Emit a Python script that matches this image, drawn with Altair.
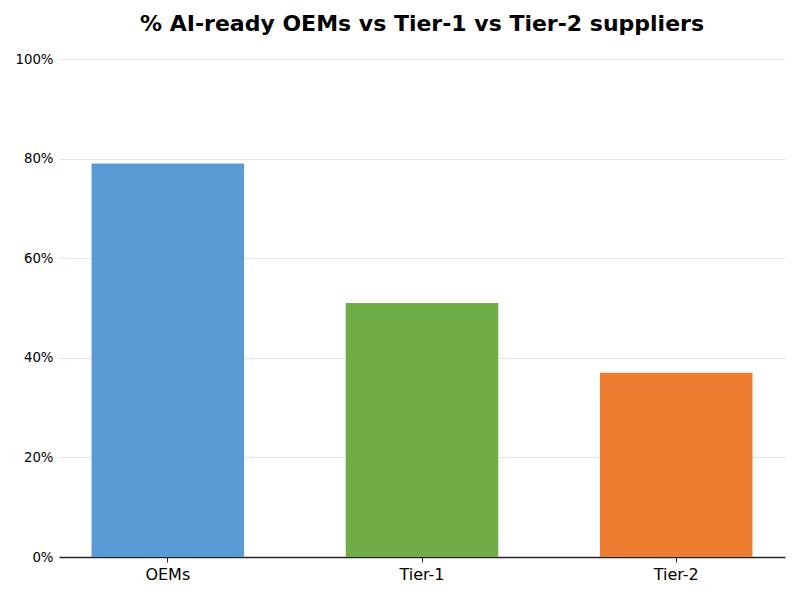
import altair as alt
import pandas as pd

categories = ["OEMs", "Tier-1", "Tier-2"]
values = [0.79, 0.51, 0.37]
colors = ["#5B9BD5", "#70AD47", "#ED7D31"]

df = pd.DataFrame({"group": categories, "share": values})

chart = alt.Chart(df).mark_bar().encode(
    x=alt.X("group:N", sort=categories, title=None,
            scale=alt.Scale(paddingInner=0.4, paddingOuter=0.128),
            axis=alt.Axis(labelAngle=0, labelFont="DejaVu Sans", labelFontSize=16,
                          labelColor="#000000", domainColor="#262626", domainWidth=1.5,
                          tickColor="#262626", tickSize=5, labelPadding=4, grid=False)),
    y=alt.Y("share:Q", title=None,
            scale=alt.Scale(domain=[0, 1], nice=False),
            axis=alt.Axis(format=".0%", values=[0, 0.2, 0.4, 0.6, 0.8, 1.0],
                          labelFont="DejaVu Sans", labelFontSize=13.3, labelColor="#000000",
                          domain=False, ticks=False, labelPadding=6,
                          gridColor="#e6e6e6", gridWidth=1)),
    color=alt.Color("group:N", scale=alt.Scale(domain=categories, range=colors), legend=None),
).properties(
    width=726, height=498,
    title=alt.TitleParams("% AI-ready OEMs vs Tier-1 vs Tier-2 suppliers",
                          font="DejaVu Sans", fontSize=22, fontWeight="bold",
                          color="#000000", anchor="middle", offset=16),
    autosize=alt.AutoSizeParams(type="none"),
    padding={"left": 51, "top": 51, "right": 7, "bottom": 35},
).configure_view(stroke=None)

chart.save("out.html", embed_options={"renderer": "svg", "actions": False})
